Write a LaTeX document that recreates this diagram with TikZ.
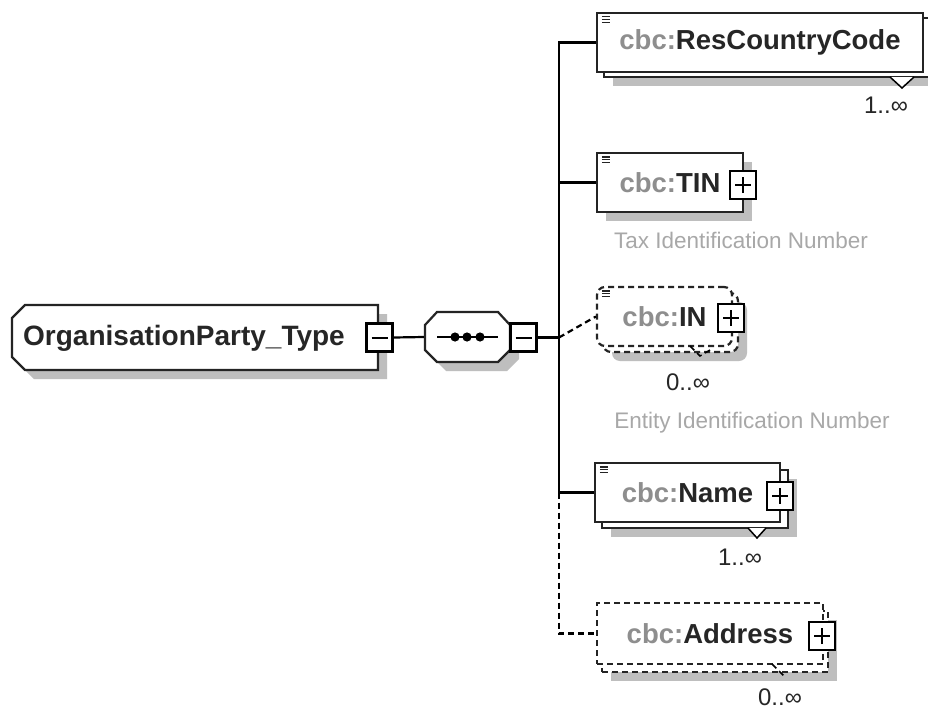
\documentclass[tikz,border=0pt]{standalone}
\usepackage{fontspec}
\setmainfont{Liberation Sans}
\usetikzlibrary{shadows}
\definecolor{edge}{HTML}{242424}
\definecolor{shade}{HTML}{BEBEBE}
\definecolor{pfx}{HTML}{8E8E8E}
\definecolor{note}{HTML}{A8A8A8}
\definecolor{nm}{HTML}{262626}
\newcommand{\listicon}[1]{\foreach \k in {0,1,2} \draw[line width=1.2pt,edge] ([xshift=6pt,yshift={-(5+2.8*\k)*1pt}]#1.north west) -- ++(8,0);}
\begin{document}
\begin{tikzpicture}[x=1pt,y=-1pt,line width=2.2pt,
  box/.style={draw=edge,fill=white,rectangle,inner sep=0pt,font=\fontsize{27.5}{30}\selectfont\bfseries,text=nm},
  sh/.style={drop shadow={shadow xshift=9pt,shadow yshift=-9pt,fill=shade,opacity=1}},
  opt/.style={dash pattern=on 6pt off 4pt},
  pm/.style={draw=black,fill=white,line width=2.6pt,rectangle,inner sep=0pt,minimum width=26,minimum height=28},
  plusbox/.style={pm,path picture={\draw[line width=2pt] ([xshift=-8pt]path picture bounding box.center) -- ([xshift=8pt]path picture bounding box.center); \draw[line width=2pt] ([yshift=-8pt]path picture bounding box.center) -- ([yshift=8pt]path picture bounding box.center);}},
  minusbox/.style={pm,path picture={\draw[line width=2pt] ([xshift=-8pt]path picture bounding box.center) -- ([xshift=8pt]path picture bounding box.center);}},
  mult/.style={font=\fontsize{24}{26}\selectfont,text=nm,inner sep=0pt},
  notetext/.style={font=\fontsize{22.5}{26}\selectfont,text=note,inner sep=0pt}
]
\useasboundingbox (0,0) rectangle (928,709);
\fill[white] (0,0) rectangle (928,709);

% root
\draw[draw=edge,fill=white,sh] (12,318) -- (25,305) -- (378,305) -- (378,370) -- (25,370) -- (12,357) -- cycle;
\node[inner sep=0pt,font=\fontsize{28}{32}\selectfont\bfseries,text=nm] (root) at (184,338) {OrganisationParty\_Type};
\node[minusbox] (rminus) at (379.5,337.5) {};

% sequence
\draw[draw=edge,fill=white,sh] (425,325) -- (437,312) -- (498,312) -- (510,325) -- (510,350) -- (498,362) -- (437,362) -- (425,350) -- cycle;
\node[inner sep=0pt,minimum width=85,minimum height=50] (seq) at (467.5,337) {};
\draw[line width=1.8pt] (437,337) -- (498,337);
\foreach \d in {455,467,480} \fill (\d,337) circle (4.6);
\node[minusbox] (sminus) at (523.5,337.5) {};

\draw (rminus.east) -- (seq.west);

% ResCountryCode
\node[box,sh,minimum width=326,minimum height=59] (rccb) at (767,47.5) {};
\node[box,minimum width=326,minimum height=59] (rcc) at (760,42.5) {\textcolor{pfx}{cbc:}ResCountryCode};
\listicon{rcc}
\draw[fill=white,line width=1.5pt] (890,77) -- (902,88) -- (914,77);
\node[mult] (rccm) at (886,105) {1..∞};

% TIN
\node[box,sh,minimum width=146,minimum height=59] (tin) at (670,182.5) {\textcolor{pfx}{cbc:}TIN\hspace{14pt}};
\listicon{tin}
\node[plusbox] (tinp) at (743,185) {};
\node[notetext] (tinn) at (741,240) {Tax Identification Number};

% IN
\node[box,opt,sh,rounded corners=8pt,minimum width=135,minimum height=59] (inb) at (670.5,322.5) {};
\node[box,opt,rounded corners=8pt,minimum width=135,minimum height=59] (in) at (664.5,316.5) {\textcolor{pfx}{cbc:}IN\hspace{18pt}};
\listicon{in}
\node[plusbox] (inp) at (731,318) {};
\draw[opt,line width=1.5pt] (690,346) -- (700,356) -- (710,350);
\node[mult] (inm) at (688,382) {0..∞};
\node[notetext] (inn) at (752,423) {Entity Identification Number};

% Name
\node[box,sh,minimum width=186,minimum height=58] (nameb) at (695,499) {};
\node[box,minimum width=185,minimum height=59] (name) at (687.5,492.5) {\textcolor{pfx}{cbc:}Name\hspace{12pt}};
\listicon{name}
\node[plusbox] (namep) at (780,496) {};
\draw[fill=white,line width=1.5pt] (748,528) -- (757,538) -- (766,528);
\node[mult] (namem) at (740,557) {1..∞};

% Address
\node[box,opt,sh,minimum width=226,minimum height=61] (addrb) at (715,641.5) {};
\node[box,opt,minimum width=226,minimum height=61] (addr) at (710,633.5) {\textcolor{pfx}{cbc:}Address\hspace{22pt}};
\node[plusbox] (addrp) at (822,636) {};
\draw[opt,line width=1.5pt] (772,664) -- (780,672) -- (786,678);
\node[mult] (addrm) at (780,697) {0..∞};

% connectors
\coordinate (spine) at (559,337.5);
\draw (sminus.east) -- (spine);
\draw (spine |- rcc.west) -- (rcc.west);
\draw (spine |- tin.west) -- (tin.west);
\draw[opt] (spine) -- (in.west);
\draw (spine |- name.west) -- (name.west);
\draw ([yshift=1.1pt]spine |- rcc.west) -- (spine |- name.west);
\draw[opt] (spine |- name.west) -- (spine |- addr.west) -- (addr.west);
\end{tikzpicture}
\end{document}
